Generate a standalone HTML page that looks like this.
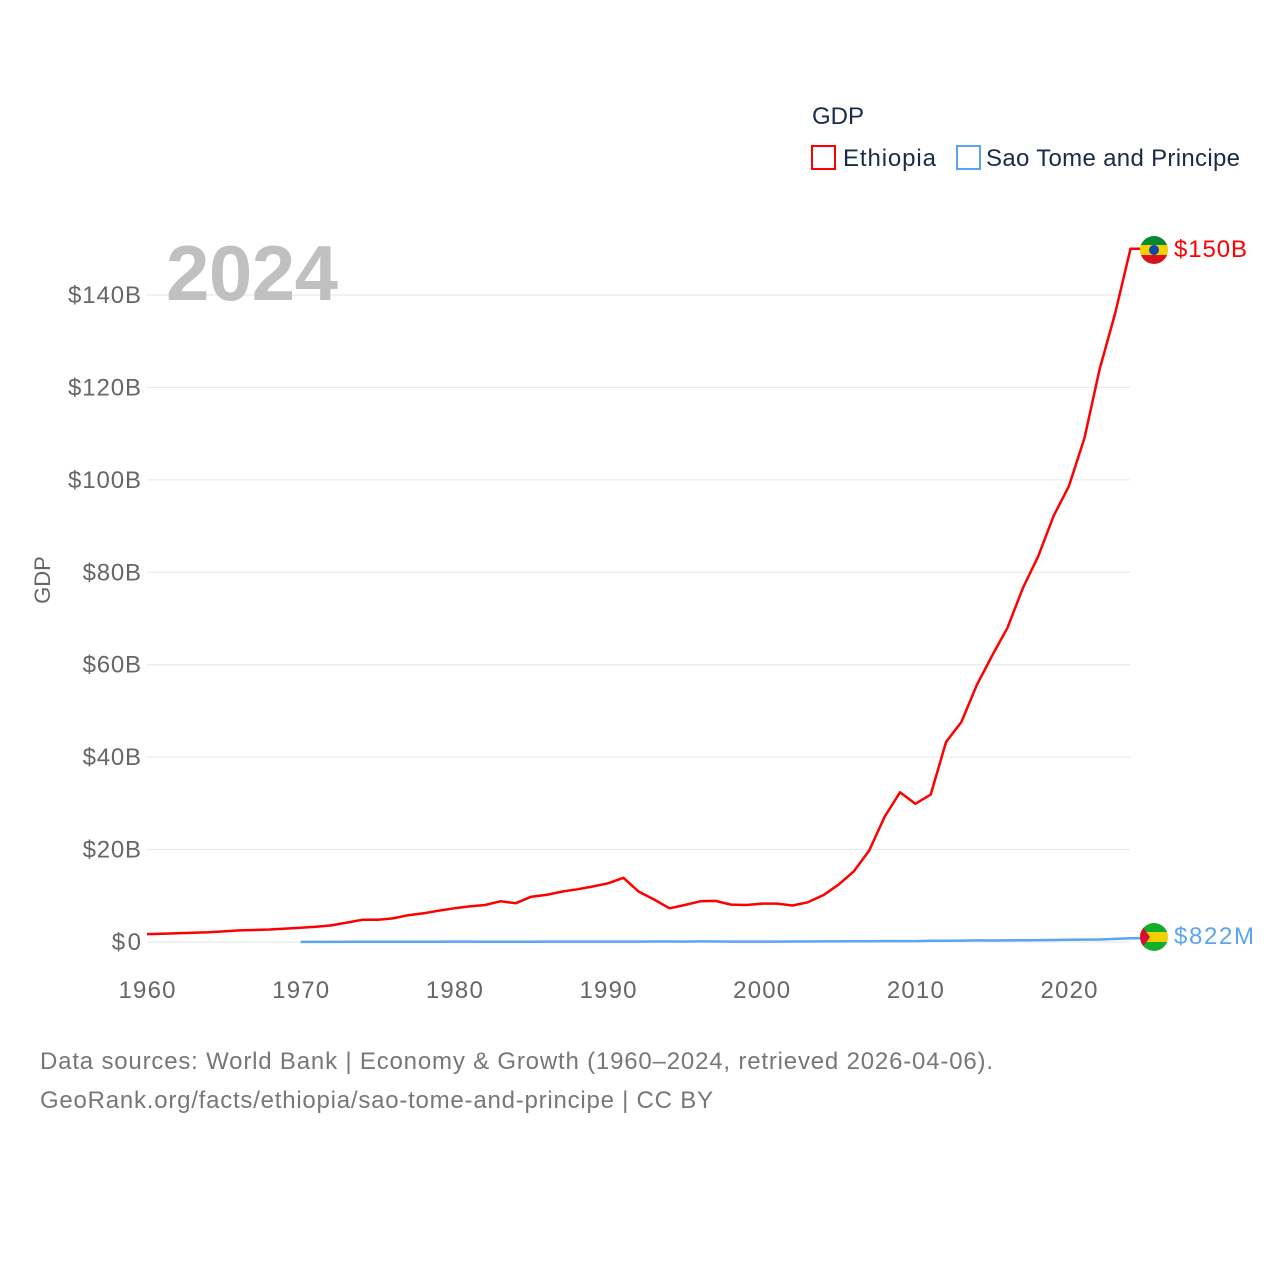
<!DOCTYPE html>
<html><head><meta charset="utf-8"><style>
body{margin:0;background:#fff;font-family:"Liberation Sans",sans-serif}
svg text{font-family:"Liberation Sans",sans-serif}
</style></head><body>
<svg id="chart" width="1280" height="1280" xmlns="http://www.w3.org/2000/svg">
<defs>
<clipPath id="c1"><circle cx="1154" cy="250" r="14"/></clipPath>
<clipPath id="c2"><circle cx="1154" cy="937" r="14"/></clipPath>
</defs>
<g id="grid"></g>
<g id="yticks"></g>
<g id="xticks"></g>
<text x="50" y="580" transform="rotate(-90 50 580)" text-anchor="middle" font-size="22" fill="#666">GDP</text>
<text x="166" y="300" font-size="78" font-weight="bold" fill="#c0c0c0" textLength="172">2024</text>
<g>
<text x="812" y="124" font-size="24" fill="#1a2b4a">GDP</text>
<g><rect x="812" y="146" width="23" height="23" fill="none" stroke="#ff0000" stroke-width="2"/><text x="843" y="166" font-size="24" fill="#1a2b4a" textLength="93">Ethiopia</text></g>
<g><rect x="957" y="146" width="23" height="23" fill="none" stroke="#5aa5f0" stroke-width="2"/><text x="986" y="166" font-size="24" fill="#1a2b4a" textLength="254">Sao Tome and Principe</text></g>
</g>
<g id="series"></g>
<g>
<g clip-path="url(#c1)"><rect x="1140" y="236" width="28" height="10" fill="#078930"/><rect x="1140" y="245" width="28" height="10" fill="#f5d000"/><rect x="1140" y="255" width="28" height="10" fill="#da121a"/><circle cx="1154" cy="250" r="5" fill="#0f47af"/></g>
<text x="1174" y="257" font-size="24" fill="#ff0000" textLength="73">$150B</text></g>
<g>
<g clip-path="url(#c2)"><rect x="1140" y="923" width="28" height="9" fill="#12ad2b"/><rect x="1140" y="932" width="28" height="10" fill="#f5d000"/><rect x="1140" y="942" width="28" height="9" fill="#12ad2b"/><path d="M1140 923 L1150 937 L1140 951 Z" fill="#d21034"/></g>
<text x="1174" y="944" font-size="24" fill="#5aa5f0" textLength="80">$822M</text></g>
<text x="40" y="1069" font-size="24" fill="#777" textLength="953">Data sources: World Bank | Economy &amp; Growth (1960–2024, retrieved 2026-04-06).</text>
<text x="40" y="1108" font-size="24" fill="#777" textLength="673">GeoRank.org/facts/ethiopia/sao-tome-and-principe | CC BY</text>
</svg>
<script>
const ethYears = [];for(let y=1960;y<=2024;y++)ethYears.push(y);
const ethValues = [1.7,1.8,1.9,2.0,2.1,2.3,2.5,2.6,2.7,2.9,3.1,3.3,3.6,4.2,4.8,4.8,5.1,5.8,6.2,6.8,7.3,7.7,8.0,8.8,8.4,9.8,10.2,10.9,11.4,12.0,12.7,13.9,10.9,9.2,7.3,8.0,8.8,8.9,8.1,8.0,8.3,8.3,7.9,8.6,10.1,12.4,15.3,19.8,27.1,32.4,29.9,31.9,43.3,47.6,55.6,62,68,76.6,83.5,92.2,98.7,109,124,136,150];
const stpYears = [];for(let y=1970;y<=2024;y++)stpYears.push(y);
const stpValues = [0.03,0.03,0.03,0.04,0.04,0.05,0.05,0.05,0.06,0.07,0.09,0.08,0.07,0.06,0.06,0.07,0.08,0.08,0.08,0.08,0.09,0.08,0.08,0.1,0.1,0.09,0.12,0.1,0.08,0.08,0.08,0.08,0.1,0.11,0.12,0.13,0.15,0.16,0.19,0.2,0.2,0.25,0.27,0.3,0.34,0.32,0.35,0.38,0.41,0.43,0.48,0.53,0.55,0.66,0.82];
const yTicks = [0,20,40,60,80,100,120,140];
const yTickLabels = ["$0","$20B","$40B","$60B","$80B","$100B","$120B","$140B"];
const xTicks = [1960,1970,1980,1990,2000,2010,2020];
const NS="http://www.w3.org/2000/svg";
const X=y=>147+(y-1960)*(922/60);
const Y=v=>942-v*(647/140);
function mk(t,a,p){const e=document.createElementNS(NS,t);for(const k in a)e.setAttribute(k,a[k]);p.appendChild(e);return e;}
const grid=document.getElementById('grid'),yt=document.getElementById('yticks'),xt=document.getElementById('xticks'),ser=document.getElementById('series');
yTicks.forEach((v,i)=>{
 const l=mk('line',{x1:147,x2:1130,y1:Y(v),y2:Y(v),stroke:'#e6e6e6','stroke-width':1},grid);
 
 
 const lab=yTickLabels[i];
 const t=mk('text',{x:141,y:Y(v)+8,'text-anchor':'end','font-size':24,fill:'#666',textLength:lab.length*14.6},yt);t.textContent=lab;
 
 
});
xTicks.forEach(v=>{
 const t=mk('text',{x:X(v),y:998,'text-anchor':'middle','font-size':24,fill:'#666',textLength:57},xt);t.textContent=v;
 
 
});
function line(ys,vs,c,name){
 let d=ys.map((y,i)=>(i?'L':'M')+X(y).toFixed(1)+' '+Y(vs[i]).toFixed(1)).join(' ');
 d+=' L'+(X(ys[ys.length-1])+10).toFixed(1)+' '+Y(vs[vs.length-1]).toFixed(1);
 const p=mk('path',{d:d,fill:'none',stroke:c,'stroke-width':2.5,'stroke-linejoin':'round'},ser);
 
 
}
line(stpYears,stpValues,'#5aa5f0','sao-tome-line');
line(ethYears,ethValues,'#ff0000','ethiopia-line');
</script>
</body></html>
